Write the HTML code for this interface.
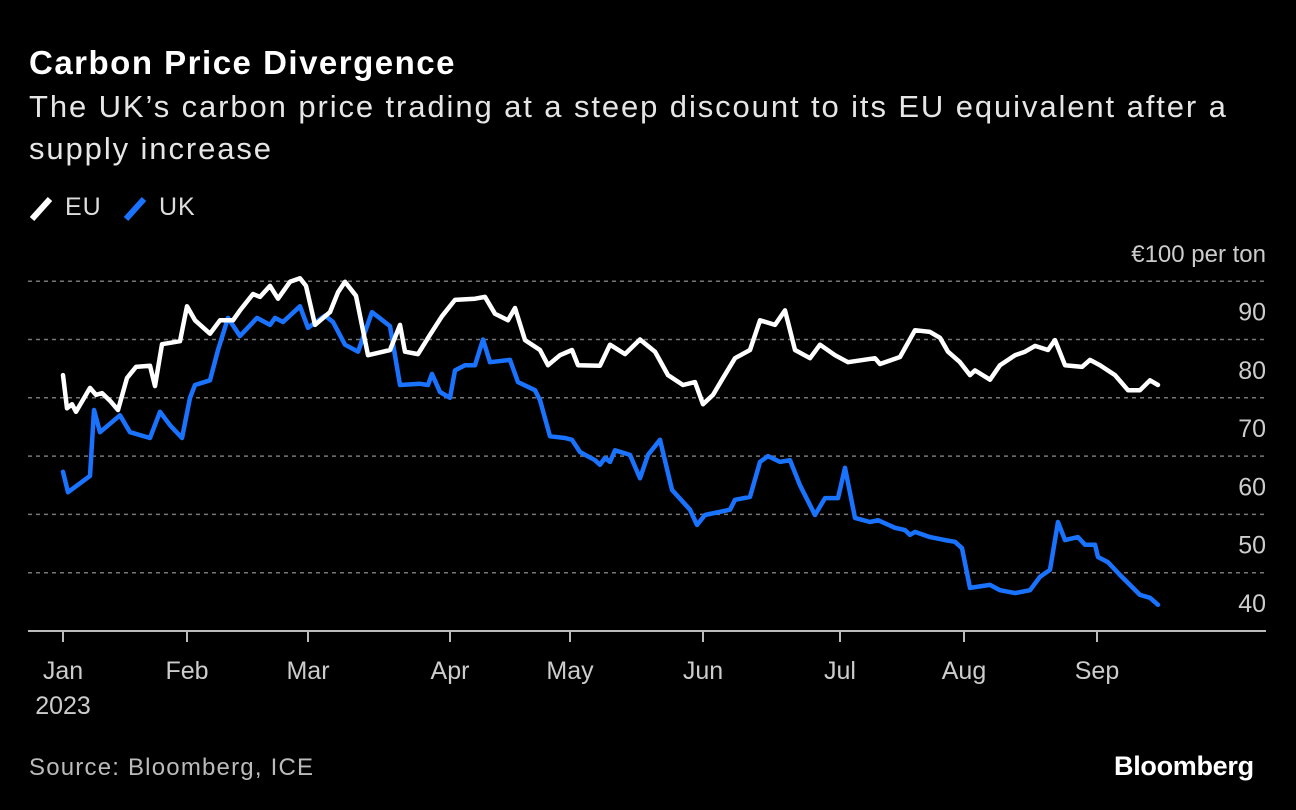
<!DOCTYPE html>
<html><head><meta charset="utf-8"><style>
html,body{margin:0;padding:0;background:#000;}
body{width:1296px;height:810px;overflow:hidden;font-family:"Liberation Sans",sans-serif;color:#fff;position:relative;}
.t{position:absolute;white-space:nowrap;}
</style></head><body>
<div class="t" style="left:29px;top:44px;font-size:33px;font-weight:bold;letter-spacing:1.5px;">Carbon Price Divergence</div>
<div class="t" style="left:29px;top:86px;font-size:31px;letter-spacing:1.9px;line-height:42px;white-space:normal;width:1240px;color:#e6e6e6;">The UK’s carbon price trading at a steep discount to its EU equivalent after a supply increase</div>
<div style="position:absolute;left:29px;top:193px;height:30px;font-size:25px;color:#ddd;letter-spacing:1px;">
  <span style="position:absolute;left:0;top:0;"><svg width="26" height="30" style="position:absolute;left:0;top:2px"><line x1="3" y1="24" x2="21" y2="4" stroke="#fff" stroke-width="6"/></svg><span style="position:absolute;left:36px;top:0;">EU</span></span>
  <span style="position:absolute;left:94px;top:0;"><svg width="26" height="30" style="position:absolute;left:0;top:2px"><line x1="3" y1="24" x2="21" y2="4" stroke="#1a73ff" stroke-width="6"/></svg><span style="position:absolute;left:36px;top:0;">UK</span></span>
</div>
<svg id="chart" width="1296" height="810" style="position:absolute;left:0;top:0;"></svg>
<div class="t" style="left:29px;top:754px;font-size:24px;letter-spacing:1.2px;color:#bbb;">Source: Bloomberg, ICE</div>
<div class="t" style="left:1114px;top:751px;font-size:27px;font-weight:bold;letter-spacing:-0.3px;">Bloomberg</div>
<script>
const yTicks=[40,50,60,70,80,90,100];
const monthLabels=["Jan","Feb","Mar","Apr","May","Jun","Jul","Aug","Sep"];
const monthDays=[0,31,61.25,96.75,126.75,160,194.25,225.25,258.5];
const euDays=[0,1,2.25,3.25,6.75,8.25,9.75,11.75,13.75,16,18.25,21.75,23,24.75,29.25,31,33,36.75,39.25,42.5,44.25,47.5,49.25,51.75,53.75,56.75,59.25,60.75,63,66.75,68.75,70.5,73.25,76.25,81.75,84.25,85.5,88.75,91.75,94.75,98,103,105.5,108,111.25,113,115.5,119.25,121.25,124.25,127.25,128.75,134.25,136.75,140.5,144.25,148,151.25,155,158,160,162.5,164.75,168,171.75,174.25,178,180.5,183,186.75,189.25,193,196.25,203,204.25,209.25,213,216.75,219.25,221.25,224.25,226.75,228,231.75,234.25,238,240.5,243,246.25,248,250.5,254.75,256.75,259.25,263,266.25,269.25,271.75,273.75];
const euValues=[83.9,78.2,78.9,77.6,81.7,80.5,80.8,79.5,77.9,83.4,85.3,85.5,82,89.2,89.7,95.7,93.3,91,93.3,93.3,95,97.8,97.3,99.2,97,99.9,100.5,99.2,92.5,94.7,98.1,99.9,97.5,87.3,88.2,92.5,87.9,87.5,90.8,94,96.8,97,97.3,94.4,93.3,95.4,89.9,88.2,85.6,87.3,88.2,85.6,85.5,89.1,87.5,90,87.9,83.9,82.2,82.7,78.9,80.5,83.1,86.8,88.2,93.3,92.5,95,88.2,86.8,89.1,87.3,86.1,86.8,85.8,87,91.6,91.3,90.3,87.9,86.1,83.9,84.7,83.1,85.6,87.3,87.9,88.9,88.2,89.9,85.6,85.3,86.5,85.6,83.9,81.3,81.3,83,82.2];
const ukDays=[0,1.25,6.75,7.75,9.25,14.25,16.75,21.75,24.25,26.75,29.75,31.75,33,36.75,38.75,41.25,44.25,48.5,51.75,53,55,59.25,61.25,65.5,67.5,70.5,73.75,77.25,81.75,84.25,89.25,91.25,92.25,94.25,96.75,98,100.5,103,105,106.75,111.75,113.75,118,119.25,121.75,125.5,127.25,129.25,133,134.25,135.5,136.75,138,141.75,144.25,146.25,149.25,152.25,156.75,158.5,160.5,166.75,168,171.75,174.25,176.25,179.25,181.75,184.25,188,190.5,193.75,195.5,198,201.75,203.75,208,210.5,211.75,213,216.75,220.5,223,224.75,226.75,231.75,234.25,238,241.75,244.25,246.75,248.75,250.5,253.75,255.5,258,258.75,261.25,264.25,269.25,271.75,273.75];
const ukValues=[67.3,63.8,66.6,77.9,74.1,77,74.1,73.1,77.6,75.3,73.1,80,82.2,83,88.2,93.7,90.6,93.7,92.5,93.7,93,95.7,92,94.1,93,89.1,87.9,94.7,92.3,82.2,82.4,82.2,84.1,81,80,84.7,85.6,85.6,90,86.1,86.5,82.7,81.3,79.6,73.4,73.1,72.8,70.7,69.3,68.5,69.7,69,71,70.2,66.2,70.2,72.8,64.2,60.8,58.2,59.9,60.8,62.5,63,69,70,69,69.3,65,59.9,62.8,62.8,68,59.4,58.7,59,57.7,57.3,56.5,57,56.1,55.6,55.3,54.2,47.4,47.9,47,46.5,47,49.3,50.5,58.7,55.6,56.1,54.8,54.8,52.7,51.8,49.6,46.2,45.7,44.5];

const X0=63, PX_PER_DAY=4, Y_BASE=631, PX_PER_UNIT=5.83, LEFT=28, RIGHT=1266;
function xScale(d){return X0+d*PX_PER_DAY;}
function yScale(v){return Y_BASE-(v-40)*PX_PER_UNIT;}
const NS="http://www.w3.org/2000/svg";
const svg=document.getElementById('chart');
function mk(tag,attrs){const e=document.createElementNS(NS,tag);for(const k in attrs)e.setAttribute(k,attrs[k]);svg.appendChild(e);return e;}

yTicks.forEach(v=>{
  const y=yScale(v);
  if(v>40){
    const g=mk('line',{x1:LEFT,x2:RIGHT,y1:y,y2:y,stroke:'#777','stroke-width':1.5,'stroke-dasharray':'4 4'});
    
    
  }
  if(v<100){
    const t=mk('text',{x:RIGHT,y:y-19,'text-anchor':'end','font-size':25,fill:'#ccc','font-family':'Liberation Sans, sans-serif'});
    t.textContent=String(v);
    
    
  }
});
const unit=mk('text',{x:RIGHT,y:yScale(100)-19,'text-anchor':'end','font-size':24,fill:'#ccc','font-family':'Liberation Sans, sans-serif'});
unit.textContent='€100 per ton';



const base=mk('line',{x1:LEFT,x2:RIGHT,y1:Y_BASE,y2:Y_BASE,stroke:'#bbb','stroke-width':2});



monthDays.forEach((d,i)=>{
  const x=xScale(d);
  const tk=mk('line',{x1:x,x2:x,y1:Y_BASE,y2:Y_BASE+11,stroke:'#bbb','stroke-width':2});
  
  
  const t=mk('text',{x:x,y:679,'text-anchor':'middle','font-size':25,fill:'#ccc','font-family':'Liberation Sans, sans-serif'});
  t.textContent=monthLabels[i];
  
  
});
const yr=mk('text',{x:xScale(0),y:714,'text-anchor':'middle','font-size':25,fill:'#ccc','font-family':'Liberation Sans, sans-serif'});
yr.textContent='2023';



function line(days,vals,color,name){
  const pts=days.map((d,i)=>xScale(d).toFixed(1)+','+yScale(vals[i]).toFixed(1)).join(' ');
  const p=mk('polyline',{points:pts,fill:'none',stroke:color,'stroke-width':4.5,'stroke-linejoin':'round','stroke-linecap':'round'});
  
  
}
line(ukDays,ukValues,'#1a73ff','uk-price-line');
line(euDays,euValues,'#ffffff','eu-price-line');
</script>
</body></html>
